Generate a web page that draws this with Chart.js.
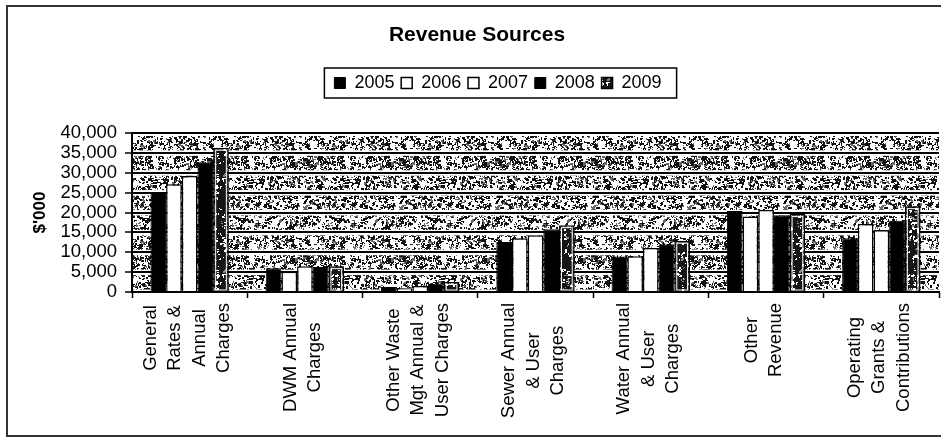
<!DOCTYPE html>
<html>
<head>
<meta charset="utf-8">
<title>Revenue Sources</title>
<script src="https://cdn.jsdelivr.net/npm/chart.js@4/dist/chart.umd.min.js"></script>
<style>
  html,body{margin:0;padding:0;background:#fff;}
  #wrap{width:941px;height:437px;position:relative;}
</style>
</head>
<body>
<div id="wrap"><canvas id="rev"></canvas></div>
<script>
/* ---------- data ($'000) ---------- */
const categoryLines=[
  ['General','Rates &','Annual','Charges'],
  ['DWM Annual','Charges'],
  ['Other Waste','Mgt Annual &','User Charges'],
  ['Sewer Annual','& User','Charges'],
  ['Water Annual','& User','Charges'],
  ['Other','Revenue'],
  ['Operating','Grants &','Contributions']
];
const years=['2005','2006','2007','2008','2009'];
const rev2005=[25000,6000,1250,12600,8900,20400,13500];
const rev2006=[27100,5100, 950,13500,9000,19000,17100];
const rev2007=[29200,6500,1500,14300,11100,20600,15600];
const rev2008=[32500,6300,2100,15800,12000,19300,17900];
const rev2009=[36300,6500,2500,16800,12900,19600,21600];
const yTicks={min:0,max:40000,step:5000};

const FONT='"Liberation Sans", Arial, sans-serif';

/* ---------- stipple textures (fixed seed, so the grain is the same every draw) ---------- */
function stipple(clusters,seed,base,ink){
  const n=96,c=document.createElement('canvas');c.width=c.height=n;
  const g=c.getContext('2d');
  g.fillStyle=base;g.fillRect(0,0,n,n);
  let s=seed;const next=()=>{s=(s*1103515245+12345)&0x7fffffff;return s/0x7fffffff;};
  for(let i=0;i<clusters;i++){
    const x=Math.floor(next()*n),y=Math.floor(next()*n),k=1+Math.floor(next()*4);
    g.fillStyle=next()<0.8?ink[0]:ink[1];
    for(let j=0;j<k;j++){
      const dx=Math.floor(next()*3)-1,dy=Math.floor(next()*3)-1;
      g.fillRect((x+dx+n)%n,(y+dy+n)%n,next()<0.4?2:1,next()<0.4?2:1);
    }
  }
  return g.createPattern(c,'repeat');
}
const bandFill=stipple(1300,9173,'#fff',['#111','#666']);
const barFill=stipple(380,421,'#161616',['#fff','#8a8a8a']);

/* ---------- plugins ---------- */
const plotBack={
  id:'plotBack',
  beforeDraw(chart){
    const {ctx,chartArea:a,scales:{y}}=chart;
    ctx.save();
    ctx.beginPath();ctx.rect(a.left,a.top,a.right-a.left,a.bottom-a.top);ctx.clip();
    ctx.fillStyle=bandFill;ctx.fillRect(a.left,a.top,a.right-a.left,a.bottom-a.top);
    ctx.fillStyle='#fff';
    y.ticks.forEach(t=>{const py=y.getPixelForValue(t.value);ctx.fillRect(a.left,py-2.5,a.right-a.left,5.5);});
    ctx.restore();
  },
  // white inner rim on the 2009 bars
  afterDatasetsDraw(chart){
    const {ctx}=chart;
    ctx.save();ctx.strokeStyle='#fff';ctx.lineWidth=1;
    chart.getDatasetMeta(4).data.forEach(b=>{
      const {x,y,base,width}=b.getProps(['x','y','base','width'],true);
      const h=base-y;
      if(h>6) ctx.strokeRect(x-width/2+2.5,y+2.5,width-5,h-3.5);
    });
    ctx.restore();
  }
};
const legendShift={
  id:'legendShift',
  afterLayout(chart){const l=chart.legend;l.left+=21;l.right+=21;}
};
const decorations={
  id:'decorations',
  afterDraw(chart){
    const {ctx,scales:{x}}=chart;
    ctx.save();
    // category labels, rotated, lines centred in their block
    ctx.font='18.5px '+FONT;ctx.fillStyle='#000';
    ctx.textAlign='center';ctx.textBaseline='middle';
    categoryLines.forEach((lines,i)=>{
      const cx=x.getPixelForValue(i)-2;
      const maxW=Math.max(...lines.map(s=>ctx.measureText(s).width));
      const cy=x.top+11+maxW/2;
      lines.forEach((s,j)=>{
        ctx.save();
        ctx.translate(cx+(j-(lines.length-1)/2)*24.5,cy);
        ctx.rotate(-Math.PI/2);
        ctx.fillText(s,0,0);
        ctx.restore();
      });
    });
    // box round the legend
    const hb=chart.legend.legendHitBoxes;
    if(hb&&hb.length){
      const l=hb[0].left-10,r=hb[hb.length-1].left+hb[hb.length-1].width+15,t=hb[0].top-6;
      ctx.strokeStyle='#000';ctx.lineWidth=1.5;
      ctx.strokeRect(l,t,r-l,30);
    }
    // outer frame
    ctx.strokeStyle='#333';ctx.lineWidth=2;
    ctx.strokeRect(7,6,950,430);
    ctx.restore();
  }
};

/* ---------- chart ---------- */
const ds=(label,data,bg,bw)=>({label,data,backgroundColor:bg,borderColor:'#000',borderWidth:bw,
  barPercentage:1,categoryPercentage:0.68});

new Chart(document.getElementById('rev'),{
  type:'bar',
  data:{
    labels:categoryLines.map(l=>l.join(' ')),
    datasets:[
      ds(years[0],rev2005,'#000',1),
      ds(years[1],rev2006,'#fff',1.5),
      ds(years[2],rev2007,'#fff',1.5),
      ds(years[3],rev2008,'#000',1),
      ds(years[4],rev2009,barFill,1.5)
    ]
  },
  plugins:[plotBack,legendShift,decorations],
  options:{
    responsive:true,maintainAspectRatio:false,animation:false,
    layout:{padding:{left:15,right:2,top:0,bottom:0}},
    plugins:{
      title:{display:true,text:'Revenue Sources',color:'#000',
        font:{family:FONT,size:21,weight:'bold',lineHeight:1.2},
        padding:{top:22.4,bottom:19.65}},
      legend:{display:true,position:'top',
        labels:{color:'#000',font:{family:FONT,size:18},boxWidth:11,boxHeight:11,padding:6.75}},
      tooltip:{enabled:false}
    },
    scales:{
      x:{
        grid:{display:true,drawOnChartArea:false,drawTicks:true,tickLength:6,tickColor:'#000',tickWidth:1.5,offset:true},
        border:{display:true,color:'#000',width:2},
        ticks:{display:false},
        afterFit(s){s.height=145;}
      },
      xTop:{
        type:'category',position:'top',display:true,
        grid:{display:false},border:{display:false},ticks:{display:false},
        afterFit(s){s.height=31;}
      },
      y:{
        min:yTicks.min,max:yTicks.max,
        ticks:{stepSize:yTicks.step,autoSkip:false,color:'#000',padding:8,font:{family:FONT,size:18.5}},
        grid:{color:'#000',lineWidth:2,tickLength:7,tickColor:'#000',tickWidth:1.5},
        border:{display:true,color:'#000',width:2},
        title:{display:true,text:"$'000",color:'#000',font:{family:FONT,size:17,weight:'bold'},padding:{top:14.8,bottom:0}},
        afterFit(s){s.width=117;}
      }
    }
  }
});
</script>
</body>
</html>
